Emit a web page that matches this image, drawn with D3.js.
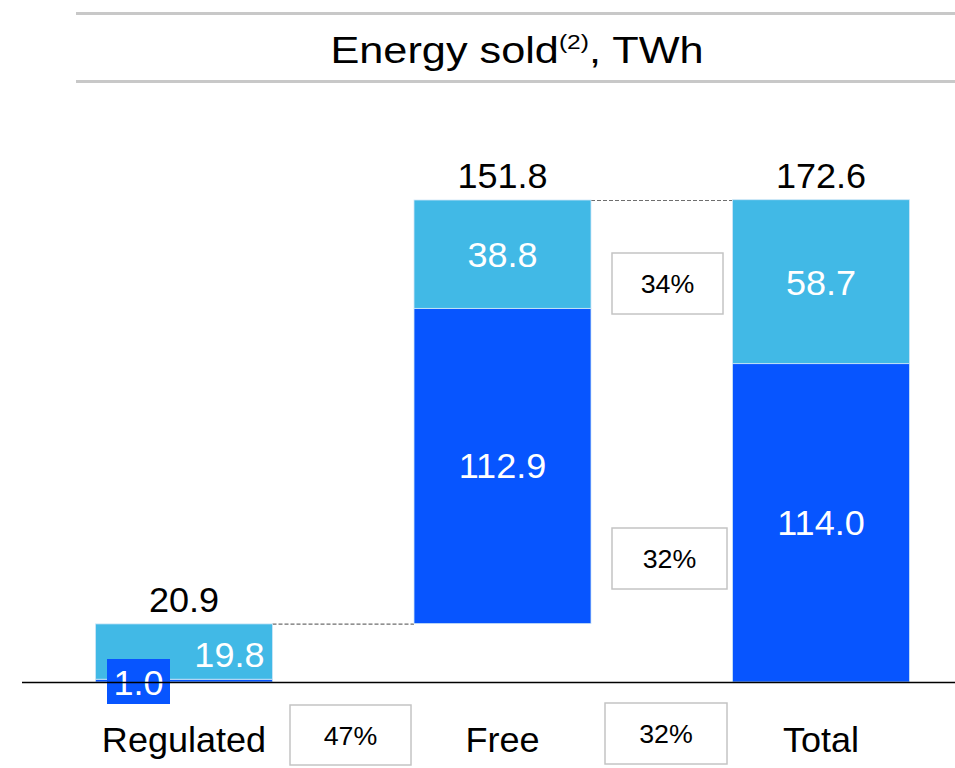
<!DOCTYPE html>
<html><head><meta charset="utf-8">
<script src="https://cdn.jsdelivr.net/npm/d3@7"></script>
<style>body{margin:0;background:#fff;}svg{display:block;font-family:"Liberation Sans",Arial,sans-serif;}</style>
</head><body>
<svg id="c" width="955" height="768"></svg>
<script>
const categories = ["Regulated", "Free", "Total"];
const darkValues = [1.0, 112.9, 114.0];
const lightValues = [19.8, 38.8, 58.7];
const totals = [20.9, 151.8, 172.6];
const bases = [0, 20.9, 0];
const pctLabels = ["47%", "32%", "34%", "32%"];

const svg = d3.select("#c");
const light = "#41B9E6", dark = "#0755FF";

function txt(x0, y0, s, size, fill, anchor, sx) {
  return svg.append("text").attr("transform", `translate(${x0},${y0}) scale(${sx||1.03},1)`)
    .attr("text-anchor", anchor || "middle").attr("font-size", size).attr("fill", fill).text(s);
}

// title lines
svg.append("rect").attr("x",76).attr("y",12).attr("width",879).attr("height",3).attr("fill","#c8c8c8");
svg.append("rect").attr("x",76).attr("y",80).attr("width",879).attr("height",3).attr("fill","#c8c8c8");
const title = svg.append("text").attr("transform","translate(517,63) scale(1.17,1)").attr("text-anchor","middle")
  .attr("font-size",37).attr("fill","#000");
title.append("tspan").text("Energy sold");
title.append("tspan").attr("font-size",21).attr("dy",-14).text("(2)");
title.append("tspan").attr("dy",14).text(", TWh");

const y = d3.scaleLinear().domain([0, 172.6]).range([682, 200]);
const x = d3.scalePoint().domain(categories).range([184, 821]);
const bw = 177;
const fs = 35;

// connectors
svg.append("line").attr("x1",x("Regulated")+bw/2).attr("x2",x("Free")-bw/2)
  .attr("y1",y(totals[0])+0.5).attr("y2",y(totals[0])+0.5).attr("stroke","#6e6e6e").attr("stroke-dasharray","4,2").attr("stroke-width",1.2);
svg.append("line").attr("x1",x("Free")+bw/2).attr("x2",x("Total")-bw/2)
  .attr("y1",y(totals[2])+0.5).attr("y2",y(totals[2])+0.5).attr("stroke","#6e6e6e").attr("stroke-dasharray","4,2").attr("stroke-width",1.2);

categories.forEach((c, i) => {
  const x0 = x(c) - bw/2;
  const b = bases[i];
  svg.append("rect").attr("x",x0).attr("width",bw)
    .attr("y",y(b+darkValues[i])).attr("height",y(b)-y(b+darkValues[i]))
    .attr("fill",dark).attr("stroke","#cfe6f7").attr("stroke-width",0.8);
  svg.append("rect").attr("x",x0).attr("width",bw)
    .attr("y",y(b+darkValues[i]+lightValues[i])).attr("height",y(b+darkValues[i])-y(b+darkValues[i]+lightValues[i]))
    .attr("fill",light).attr("stroke","#cfe6f7").attr("stroke-width",0.8);
  txt(x(c), y(b+totals[i])-12, totals[i].toFixed(1), fs, "#000");
  txt(x(c), 752, c, fs, "#000");
  if (i > 0) {
    txt(x(c), y(b + darkValues[i]/2)+12, darkValues[i].toFixed(1), fs, "#fff");
    txt(x(c), y(b + darkValues[i] + lightValues[i]/2)+13, lightValues[i].toFixed(1), fs, "#fff");
  } else {
    txt(x0+bw-8, 667, lightValues[i].toFixed(1), fs, "#fff", "end");
    svg.append("rect").attr("x",107).attr("y",659).attr("width",63).attr("height",45).attr("fill",dark);
    txt(138.5, 695, darkValues[i].toFixed(1), fs, "#fff");
  }
});

// baseline
svg.append("line").attr("x1",22).attr("x2",955).attr("y1",682.5).attr("y2",682.5).attr("stroke","#000").attr("stroke-width",1.5);

// percent boxes
const boxes = [
  {x:290, y:705, w:121, h:60},
  {x:605, y:703, w:122, h:61},
  {x:612, y:253, w:111, h:61},
  {x:612, y:528, w:115, h:61}
];
boxes.forEach((bx, i) => {
  svg.append("rect").attr("x",bx.x).attr("y",bx.y).attr("width",bx.w).attr("height",bx.h)
    .attr("fill","#fff").attr("stroke","#c4c4c4").attr("stroke-width",1.5);
  txt(bx.x+bx.w/2, bx.y+bx.h/2+9.5, pctLabels[i], 26, "#000");
});
</script>
</body></html>
